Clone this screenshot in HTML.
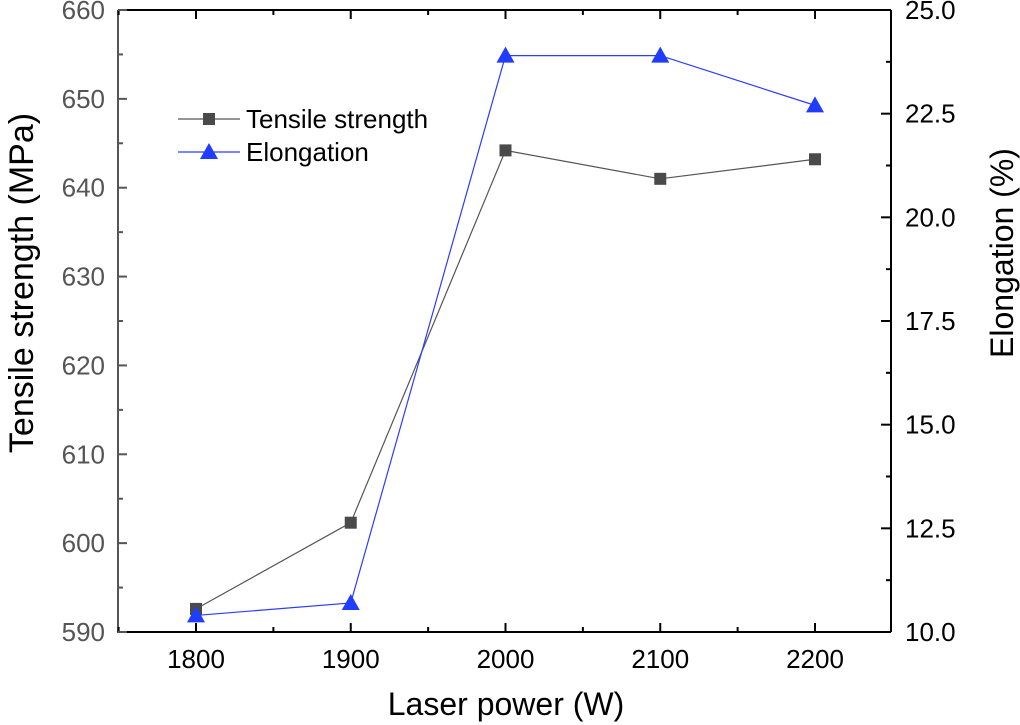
<!DOCTYPE html>
<html><head><meta charset="utf-8"><style>body{margin:0;background:#fff}svg{display:block}text{font-family:"Liberation Sans",Arial,sans-serif}</style></head>
<body>
<svg id="c" width="1020" height="725"></svg>
<script>
const categories=[1800,1900,2000,2100,2200];
const tensile=[592.6,602.3,644.2,641.0,643.2];
const elong=[10.4,10.7,23.9,23.9,22.7];
const xTicks=[1800,1900,2000,2100,2200];
const yLTicks=[590,600,610,620,630,640,650,660];
const yRTicks=[10.0,12.5,15.0,17.5,20.0,22.5,25.0];
const L=118,R=891,T=10,B=632;
const X=v=>196+(v-1800)*(815-196)/400;
const YL=v=>B-(v-590)*(B-T)/70;
const YR=v=>B-(v-10)*(B-T)/15;
const svg=document.getElementById('c');const NS='http://www.w3.org/2000/svg';
function el(t,a,p){const e=document.createElementNS(NS,t);for(const k in a)e.setAttribute(k,a[k]);(p||svg).appendChild(e);return e;}
function ln(x1,y1,x2,y2,s,w){return el('line',{x1,y1,x2,y2,stroke:s,'stroke-width':w||2});}
function tx(x,y,s,o){const e=el('text',Object.assign({x,y,'font-size':26},o||{}));e.textContent=s;return e;}
let a=ln(L,B,R,B,'#000');
a=ln(L,T,R,T,'#000');
a=ln(R,T,R,B,'#000');
a=ln(L,T,L,B+1,'#555');
for(let v=1750;v<=2250;v+=50){const x=X(v);if(x<=L||x>=R)continue;const m=v%100===0;ln(x,B,x,B-(m?9:5),'#000');ln(x,T,x,T+(m?9:5),'#000');}
xTicks.forEach(v=>{const t=tx(X(v),668,v,{'text-anchor':'middle',fill:'#000'});});
for(let v=590;v<=660;v+=5){const m=v%10===0;ln(L,YL(v),L+(m?9:5),YL(v),'#555');}
yLTicks.forEach(v=>{const t=tx(105,YL(v)+9,v,{'text-anchor':'end',fill:'#555'});});
for(let v=10;v<=25;v+=1.25){const m=Math.abs(v/2.5-Math.round(v/2.5))<1e-6;ln(R,YR(v),R-(m?10:5),YR(v),'#000');}
yRTicks.forEach(v=>{const t=tx(905,YR(v)+9,v.toFixed(1),{fill:'#000'});});
let t=tx(506,715,'Laser power (W)',{'text-anchor':'middle','font-size':32});
t=tx(0,0,'Tensile strength (MPa)',{'text-anchor':'middle','font-size':34,transform:'translate(33,283) rotate(-90)'});
t=tx(0,0,'Elongation (%)',{'text-anchor':'middle','font-size':32,transform:'translate(1013,253) rotate(-90)'});
let p=el('polyline',{points:categories.map((c,i)=>X(c)+','+YL(tensile[i])).join(' '),fill:'none',stroke:'#555','stroke-width':1.2});

p=el('polyline',{points:categories.map((c,i)=>X(c)+','+YR(elong[i])).join(' '),fill:'none',stroke:'#2a3cff','stroke-width':1.2});

categories.forEach((c,i)=>{const r=el('rect',{x:X(c)-6,y:YL(tensile[i])-6,width:12,height:12,fill:'#4a4a4a'});});
function tri(x,y){return el('polygon',{points:`${x},${y-9} ${x-9},${y+7} ${x+9},${y+7}`,fill:'#1f3cff'});}
categories.forEach((c,i)=>{const r=tri(X(c),YR(elong[i]));});
ln(178,119,240,119,'#555',1.2);let r=el('rect',{x:203,y:113,width:12,height:12,fill:'#4a4a4a'});
t=tx(246,128,'Tensile strength',{fill:'#000'});
ln(178,152,240,152,'#2a3cff',1.2);r=tri(209,152);
t=tx(246,161,'Elongation',{fill:'#000'});
</script>
</body></html>
